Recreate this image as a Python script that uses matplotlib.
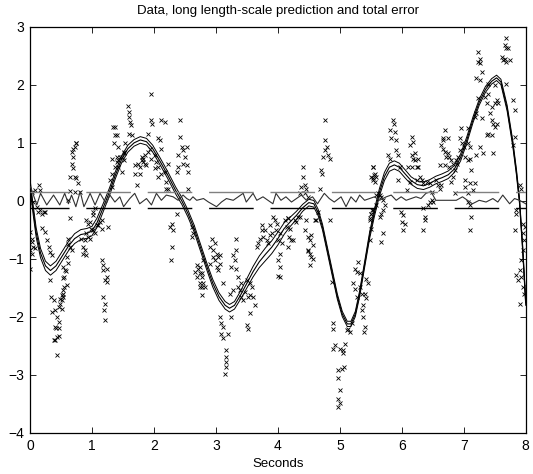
import numpy as np
import matplotlib
matplotlib.use("Agg")
import matplotlib.pyplot as plt

plt.rcParams['font.family'] = ['Liberation Sans', 'DejaVu Sans']

# ---------------- data ----------------
title = "Data, long length-scale prediction and total error"
xlabel = "Seconds"
xticks = [0, 1, 2, 3, 4, 5, 6, 7, 8]
yticks = [-4, -3, -2, -1, 0, 1, 2, 3]

# prediction mean
mean_x = [0.00, 0.05, 0.10, 0.17, 0.25, 0.33, 0.42, 0.52, 0.62, 0.72, 0.82, 0.92, 1.00, 1.08,
          1.18, 1.28, 1.38, 1.48, 1.58, 1.68, 1.78, 1.88, 1.98, 2.10, 2.22, 2.35, 2.45, 2.55,
          2.65, 2.75, 2.85, 2.95, 3.05, 3.15, 3.22, 3.30, 3.40, 3.50, 3.60, 3.70, 3.80, 3.90,
          4.00, 4.10, 4.20, 4.30, 4.40, 4.50, 4.58, 4.65, 4.72, 4.80, 4.88, 4.96, 5.04, 5.12,
          5.18, 5.25, 5.32, 5.40, 5.48, 5.56, 5.64, 5.72, 5.80, 5.88, 5.96, 6.05, 6.15, 6.25,
          6.35, 6.45, 6.55, 6.65, 6.75, 6.85, 6.95, 7.05, 7.15, 7.25, 7.35, 7.45, 7.53, 7.60,
          7.70, 7.79, 7.85, 7.90, 7.95, 8.00]
mean_y = [0.30, -0.15, -0.55, -0.90, -1.12, -1.20, -1.12, -0.95, -0.78, -0.65, -0.58, -0.56, -0.52, -0.38,
          -0.12, 0.15, 0.45, 0.72, 0.90, 1.00, 1.05, 1.02, 0.90, 0.68, 0.45, 0.18, 0.00, -0.22,
          -0.48, -0.80, -1.12, -1.42, -1.65, -1.80, -1.85, -1.80, -1.62, -1.42, -1.22, -1.05, -0.92, -0.80,
          -0.65, -0.48, -0.36, -0.25, -0.12, -0.03, -0.05, -0.20, -0.45, -0.85, -1.25, -1.65, -1.95, -2.12,
          -2.12, -1.95, -1.60, -1.10, -0.60, -0.20, 0.15, 0.42, 0.58, 0.62, 0.58, 0.47, 0.35, 0.28,
          0.26, 0.30, 0.36, 0.40, 0.45, 0.55, 0.75, 1.05, 1.40, 1.70, 1.92, 2.06, 2.12, 2.05,
          1.60, 1.00, 0.50, 0.00, -0.80, -1.75]
band = [0.08, 0.08, 0.08, 0.08, 0.08, 0.08, 0.08, 0.08, 0.08, 0.085, 0.085, 0.085, 0.08, 0.08,
        0.07, 0.065, 0.06, 0.06, 0.06, 0.057, 0.057, 0.057, 0.06, 0.06, 0.06, 0.06, 0.06, 0.06,
        0.06, 0.06, 0.06, 0.065, 0.065, 0.065, 0.065, 0.065, 0.07, 0.08, 0.09, 0.10, 0.11, 0.11,
        0.11, 0.10, 0.08, 0.07, 0.06, 0.057, 0.057, 0.055, 0.05, 0.05, 0.05, 0.045, 0.045, 0.045,
        0.045, 0.045, 0.05, 0.05, 0.055, 0.06, 0.065, 0.07, 0.07, 0.07, 0.07, 0.07, 0.065, 0.065,
        0.065, 0.065, 0.065, 0.065, 0.065, 0.06, 0.06, 0.055, 0.05, 0.05, 0.05, 0.046, 0.046, 0.046,
        0.05, 0.05, 0.05, 0.05, 0.05, 0.05]

# total error curve near zero
err_x = [0.01, 0.11, 0.17, 0.27, 0.38, 0.48, 0.56, 0.62, 0.67, 0.74, 0.81, 0.87, 0.92, 0.97, 1.05,
         1.13, 1.23, 1.29, 1.37, 1.45, 1.51, 1.61, 1.69, 1.77, 1.88, 1.96, 2.04, 2.12, 2.20, 2.31,
         2.39, 2.47, 2.53, 2.58, 2.63, 2.69, 2.80, 2.88, 3.01, 3.09, 3.17, 3.28, 3.36, 3.44, 3.49,
         3.60, 3.66, 3.76, 3.92, 3.97, 4.05, 4.13, 4.22, 4.30, 4.38, 4.46, 4.56, 4.64, 4.75, 4.83,
         4.91, 5.02, 5.10, 5.18, 5.26, 5.32, 5.40, 5.48, 5.56, 5.64, 5.75, 5.83, 5.91, 5.99, 6.07,
         6.15, 6.23, 6.31, 6.39, 6.47, 6.55, 6.69, 6.88, 6.98, 7.06, 7.14, 7.25, 7.36, 7.47, 7.55,
         7.63, 7.74, 7.82, 7.90, 8.00]
err_y = [0.24, -0.07, 0.13, -0.07, 0.10, -0.07, 0.13, -0.05, 0.10, -0.10, 0.16, -0.10, 0.01, 0.13, -0.07,
         0.13, -0.05, 0.10, -0.02, 0.07, -0.10, 0.04, 0.13, -0.05, 0.04, -0.07, 0.13, 0.01, 0.10, 0.07,
         0.01, 0.10, 0.04, 0.01, 0.07, 0.01, 0.04, -0.02, -0.10, -0.02, 0.04, 0.01, 0.07, 0.13, -0.02,
         0.13, 0.01, 0.07, -0.05, 0.13, 0.01, 0.07, -0.02, 0.04, 0.10, 0.01, 0.07, -0.05, 0.13, 0.04,
         -0.02, 0.07, -0.10, 0.07, -0.02, 0.10, 0.01, 0.04, 0.07, 0.01, 0.07, 0.10, 0.01, 0.07, 0.01,
         0.04, 0.07, 0.04, 0.13, 0.16, 0.01, 0.01, 0.01, 0.07, 0.01, -0.05, 0.01, -0.02, 0.04, -0.02,
         0.10, -0.05, 0.04, 0.01, -0.05]

# error bounds (dashed)
upper_bound = 0.15
lower_bound = -0.13

# observed data
data_x = [
    0.03, 0.08, 0.15, 0.16, 0.05, 0.11, 0.19, 0.22, 0.13, 0.16, 0.24, 0.00, 0.03, 0.04, 0.05, 0.00,
    0.03, 0.08, 0.00, 0.20, 0.24, 0.27, 0.30, 0.32, 0.35, 0.32, 0.34, 0.38, 0.40, 0.35, 0.46, 0.43,
    0.46, 0.40, 0.43, 0.38, 0.41, 0.46, 0.43, 0.42, 0.47, 0.51, 0.48, 0.53, 0.55, 0.53, 0.58, 0.61,
    0.59, 0.62, 0.54, 0.56, 0.55, 0.59, 0.54, 0.51, 0.54, 0.48, 0.51, 0.62, 0.65, 0.67, 0.67, 0.70,
    0.73, 0.74, 0.70, 0.67, 0.70, 0.65, 0.73, 0.75, 0.78, 0.81, 0.73, 0.62, 0.64, 0.65, 0.74, 0.91,
    0.94, 0.97, 0.99, 1.02, 1.05, 1.08, 1.10, 1.13, 1.16, 1.02, 1.05, 1.02, 0.91, 0.94, 0.97, 0.89,
    0.83, 0.86, 0.89, 0.86, 0.91, 1.16, 1.26, 1.16, 1.18, 1.24, 1.17, 1.24, 1.21, 1.25, 1.18, 1.21,
    1.20, 1.21, 1.34, 1.37, 1.36, 1.40, 1.42, 1.32, 1.37, 1.33, 1.29, 1.32,
    1.58, 1.60, 1.60, 1.61, 1.63, 1.59, 1.64, 1.37, 1.40, 1.42, 1.53, 1.51, 1.45, 1.48, 1.52, 1.40,
    1.42, 1.48, 1.52, 1.95, 1.96, 1.97, 2.12, 2.18, 2.42, 2.07, 2.10, 2.12, 1.91, 1.94, 1.91, 1.85,
    1.80, 1.83, 1.85, 1.75, 1.69, 1.77, 1.69, 1.72, 1.96, 2.02, 2.04, 2.02, 2.07, 2.12, 2.18, 2.23,
    2.20, 2.20, 2.42, 2.45, 2.47, 2.53, 2.39, 2.50, 2.47, 2.53, 2.39, 2.37, 2.55, 2.55, 2.23, 2.07,
    2.37, 2.29, 2.26, 2.31, 2.29, 2.27, 2.61, 2.63, 2.61, 2.69, 2.71, 2.66, 2.74, 2.70, 2.77, 2.74,
    2.78, 2.80, 1.88, 1.80, 1.78, 1.83,
    2.74, 2.77, 2.80, 2.74, 2.82, 2.77, 2.93, 2.98, 2.90, 2.96, 3.01, 3.04, 2.98, 3.06, 2.96, 2.90,
    3.01, 3.06, 3.04, 3.12, 3.32, 3.33, 3.28, 3.31, 3.25, 3.33, 3.36, 3.06, 3.25, 3.09, 3.12, 3.09,
    3.12, 3.20, 3.17, 3.17, 3.17, 3.16, 3.14, 3.23, 3.28, 3.50, 3.55, 3.58, 3.55, 3.60, 3.52, 3.63,
    3.55, 3.50, 3.52, 3.66, 3.68, 3.71, 3.74, 3.74, 3.79, 3.76, 3.82, 3.84, 3.87, 3.90, 3.87, 3.92,
    3.95, 3.98, 3.97, 4.03, 4.01, 4.06, 4.03, 4.01, 4.03, 4.11, 4.17, 4.18, 4.03, 3.36, 3.39, 3.41,
    3.44, 3.47, 3.41, 4.00,
    4.76, 4.76, 4.79, 4.76, 4.73, 4.81, 4.84, 4.70, 4.72, 4.41, 4.41, 4.44, 4.38, 4.46, 4.68, 4.35,
    4.44, 4.49, 4.17, 4.14, 4.19, 4.27, 4.33, 4.30, 4.35, 4.22, 4.17, 4.25, 4.46, 4.44, 4.49, 4.52,
    4.54, 4.57, 4.60, 4.49, 4.52, 4.54, 4.62, 4.65, 4.84, 4.87, 4.89, 4.89, 4.92, 4.89, 5.00, 5.05,
    5.08, 5.05, 4.97, 5.03, 5.07, 4.97, 5.00, 4.97, 5.00, 4.97, 5.30, 5.24, 5.27, 5.32, 5.22, 5.24,
    5.32, 5.35, 5.27, 5.40, 5.43, 5.38, 5.35, 5.38, 5.40, 5.39, 5.46, 5.43, 5.48, 5.51, 5.52, 5.54,
    5.55, 5.54, 5.13, 5.16, 5.11, 5.19, 4.48, 4.56, 4.52, 5.67,
    5.86, 5.87, 5.81, 5.89, 5.83, 5.91, 5.91, 5.94, 5.78, 5.81, 5.54, 5.56, 5.59, 5.54, 5.56, 5.51,
    5.59, 5.62, 5.65, 5.67, 5.70, 5.73, 5.70, 5.67, 5.65, 5.59, 5.54, 5.51, 5.48, 5.51, 5.70, 5.48,
    6.16, 6.13, 6.18, 6.21, 6.18, 6.16, 6.21, 6.26, 6.26, 6.24, 6.10, 6.16, 5.97, 5.94, 6.13, 6.24,
    6.29, 6.32, 6.34, 6.40, 6.45, 6.08, 5.99, 6.02, 6.01, 6.05, 6.02, 6.34, 6.37, 6.37, 6.34, 6.42,
    6.45, 6.48, 6.51, 6.48, 6.56, 6.59, 6.61, 6.64, 6.61, 6.69, 6.69, 6.67, 6.67, 6.75, 6.64, 6.67,
    6.69, 6.75, 6.77, 6.72, 6.80, 6.83, 6.77, 6.86, 6.80, 6.83, 6.91, 6.88, 6.89, 6.94, 6.94, 6.86,
    7.69, 7.66, 7.69, 7.72, 7.23, 7.26, 7.23, 7.27, 7.61, 7.63, 7.66, 7.69, 7.74, 7.29, 7.20, 7.26,
    7.23, 7.39, 7.50, 7.69, 7.80, 7.82, 7.34, 7.39, 7.37, 7.45, 7.50, 7.53, 7.55, 7.42, 7.45, 7.50,
    7.47, 7.53, 7.20, 7.18, 7.29, 7.39, 7.45, 7.37, 7.26, 7.20, 7.31, 7.47, 7.07, 7.07, 7.10, 7.02,
    7.10, 7.07, 7.12, 7.02, 7.10, 7.18, 7.02, 7.15, 7.07, 7.07, 7.10, 7.12, 7.10, 7.82, 7.80, 7.90,
    7.93, 7.85, 7.82, 7.96, 7.99, 7.96, 7.98, 7.96, 7.93, 7.90, 7.93, 7.96, 7.85, 7.88, 7.90, 7.98,
    7.85, 6.96, 6.98, 7.01]
data_y = [
    0.16, 0.18, 0.28, 0.18, -0.02, -0.10, -0.22, -0.19, -0.19, -0.16, -0.19, -0.53, -0.65, -0.71, -0.79, -0.85,
    -0.91, -0.82, -1.17, -0.46, -0.53, -0.68, -0.79, -0.88, -0.94, -1.37, -1.65, -1.71, -1.88, -1.91, -1.83, -2.00,
    -2.09, -2.17, -2.34, -2.39, -2.40, -2.32, -2.66, -2.19, -2.19, -1.86, -1.69, -1.61, -1.49, -1.33, -1.20, -1.07,
    -0.97, -0.74, -1.14, -1.19, -1.31, -1.45, -1.54, -1.63, -1.65, -1.77, -1.71, -0.65, -0.79, -0.85, 0.85, 0.90,
    0.93, 0.99, 0.76, 0.64, 0.56, 0.41, 0.41, 0.39, 0.30, 0.16, 0.16, 0.01, 0.17, -0.30, 1.00, -0.33,
    -0.39, -0.36, -0.48, -0.50, -0.56, -0.42, -0.42, -0.36, -0.33, -0.19, -0.13, -0.25, -0.56, -0.62, -0.65, -0.68,
    -0.65, -0.79, -0.85, -0.91, -0.94, -0.48, -0.45, -1.02, -1.11, -1.17, -1.19, -1.31, -1.37, -1.40, -1.65, -1.77,
    -1.88, -2.06, 1.28, 1.13, 0.99, 0.76, 0.70, 0.73, 0.59, 0.47, 0.36, 0.24,
    1.63, 1.54, 1.45, 1.36, 1.31, 1.16, 1.13, 1.28, 1.13, 0.93, 0.99, 0.85, 0.76, 0.76, 0.70, 0.67,
    0.59, 0.50, 0.82, 1.84, 1.40, 1.33, 1.39, 1.36, 1.40, 1.08, 1.05, 0.90, 1.16, 0.90, 0.85, 0.79,
    0.76, 0.67, 0.64, 0.64, 0.62, 0.47, 0.47, 0.27, 0.73, 0.79, 0.67, 0.56, 0.59, 0.47, 0.50, 0.64,
    0.33, 0.21, 1.10, 0.93, 0.87, 0.93, 0.79, 0.76, 0.64, 0.62, 0.59, 0.50, 0.50, 0.21, 0.21, 0.41,
    -0.22, -0.39, -0.45, -0.50, -0.79, -1.02, -0.45, -0.56, -0.62, -1.11, -1.17, -1.22, -1.25, -1.31, -1.31, -1.42,
    -1.48, -1.02, 0.62, 0.70, 0.58, 0.72,
    -1.14, -1.25, -1.42, -1.48, -1.48, -1.63, -0.65, -0.73, -0.79, -0.85, -0.91, -0.96, -1.02, -0.94, -0.96, -1.08,
    -1.14, -1.08, -1.19, -1.42, -0.65, -0.85, -0.94, -1.02, -1.14, -1.17, -1.31, -2.00, -2.00, -2.11, -2.17, -2.29,
    -2.37, -2.29, -2.57, -2.69, -2.78, -2.86, -2.98, -1.60, -1.54, -1.37, -1.42, -1.48, -1.63, -1.65, -1.65, -1.80,
    -1.94, -2.14, -2.20, -0.79, -0.73, -0.65, -0.51, -0.42, -0.51, -0.62, -0.68, -0.73, -0.59, -0.56, -0.42, -0.28,
    -0.33, -0.39, -0.51, -0.56, -0.68, -0.73, -0.91, -1.02, -1.14, -0.33, -0.30, -0.62, -1.31, -1.48, -1.54, -1.65,
    -1.71, -1.57, -1.42, -1.29,
    1.40, 1.05, 0.93, 0.87, 0.76, 0.79, 0.73, 0.53, 0.47, 0.59, 0.42, 0.27, 0.24, 0.21, 0.21, 0.13,
    0.13, 0.07, -0.30, -0.45, -0.48, -0.33, -0.28, -0.36, -0.28, -0.68, -0.79, -0.68, -0.33, -0.51, -0.62, -0.68,
    -0.59, -0.76, -0.33, -0.85, -0.91, -0.96, -0.33, -0.19, -0.33, -1.40, -2.11, -2.20, -2.49, -2.55, -2.55, -2.57,
    -2.46, -2.63, -2.92, -2.89, -2.86, -3.06, -3.26, -3.41, -3.49, -3.55, -1.05, -1.17, -1.22, -1.25, -1.42, -1.51,
    -1.48, -1.60, -1.65, -1.60, -1.68, -1.80, -1.88, -2.00, -2.17, -2.26, -1.42, -1.34, -0.30, -0.22, -0.16, 0.59,
    0.44, 0.36, -2.20, -2.26, -2.23, -2.11, -0.86, -1.00, -1.11, -0.71,
    1.40, 1.33, 1.22, 1.19, 1.08, 1.05, 0.87, 0.79, 0.79, 0.73, 0.59, 0.47, 0.42, 0.39, 0.33, 0.42,
    0.10, 0.13, 0.10, 0.07, 0.01, -0.07, -0.16, -0.22, -0.28, -0.07, -0.16, -0.22, -0.33, -0.48, -0.56, -0.68,
    1.10, 0.96, 1.02, 0.82, 0.73, 0.79, 0.70, 0.73, 0.59, 0.59, 0.59, 0.59, 0.59, 0.36, 0.33, 0.36,
    0.42, 0.36, 0.30, 0.33, 0.30, 0.18, -0.19, -0.25, -0.36, -0.39, -0.51, -0.13, -0.28, -0.33, -0.51, -0.07,
    -0.02, 0.01, -0.02, 0.16, 0.36, 0.27, 0.21, 0.27, 0.62, 0.62, 1.22, 1.08, 1.05, 1.08, 0.96, 0.90,
    0.85, 0.82, 0.76, 0.76, 0.70, 0.64, 0.59, 0.53, 0.33, 0.42, 0.76, 0.70, 0.64, 1.08, 0.87, 0.13,
    2.80, 2.68, 2.63, 2.63, 2.57, 2.45, 2.40, 2.38, 2.48, 2.43, 2.44, 2.40, 2.43, 2.22, 2.11, 2.08,
    1.77, 2.02, 1.99, 2.02, 1.74, 1.56, 1.79, 1.85, 1.68, 1.62, 1.68, 1.74, 1.68, 1.51, 1.39, 1.28,
    1.33, 1.33, 1.51, 1.45, 1.42, 1.16, 1.13, 1.13, 0.93, 0.79, 0.82, 0.82, 1.25, 0.99, 0.93, 0.76,
    0.73, 0.70, 0.53, 0.36, 0.30, 0.30, 0.24, 0.18, 0.13, -0.02, -0.07, -0.28, -0.51, 1.10, 0.96, 0.27,
    0.21, -0.16, -0.51, -0.39, -0.45, -0.56, -0.68, -0.85, -1.02, -1.19, -1.31, -1.48, -1.28, -1.37, -1.77, -1.60,
    -0.22, 1.25, 0.99, 0.93]

# ---------------- plot ----------------
fig = plt.figure(figsize=(5.33, 4.74), dpi=100)
ax = fig.add_axes([0.0563, 0.0865, 0.930, 0.857])

mx = np.array(mean_x)
my = np.array(mean_y)
bw = np.array(band)

ax.plot(data_x, data_y, linestyle='none', marker='x', markersize=2.6,
        markeredgewidth=0.6, color='black', zorder=2)

ax.plot(mx, my + bw, color='black', lw=0.7, zorder=3)
ax.plot(mx, my - bw, color='black', lw=0.7, zorder=3)
ax.plot(mx, my, color='black', lw=0.8, zorder=3)

ax.plot(err_x, err_y, color='#303030', lw=0.8, zorder=3)

dash = (4.0, (32.1, 12.1))
ax.plot([0, 8], [upper_bound, upper_bound], color='#808080', lw=1.0, linestyle=dash, zorder=3)
ax.plot([0, 8], [lower_bound, lower_bound], color='black', lw=1.0, linestyle=dash, zorder=3)

ax.set_xlim(0, 8)
ax.set_ylim(-4, 3)
ax.set_xticks(xticks)
ax.set_yticks(yticks)
ax.tick_params(direction='in', top=True, right=True, length=4, width=0.6,
               labelsize=10, pad=4)
for s in ax.spines.values():
    s.set_linewidth(0.9)
ax.set_title(title, fontsize=9.5, pad=9)
ax.set_xlabel(xlabel, fontsize=9.5, labelpad=4)

fig.savefig("out.png", dpi=100)
